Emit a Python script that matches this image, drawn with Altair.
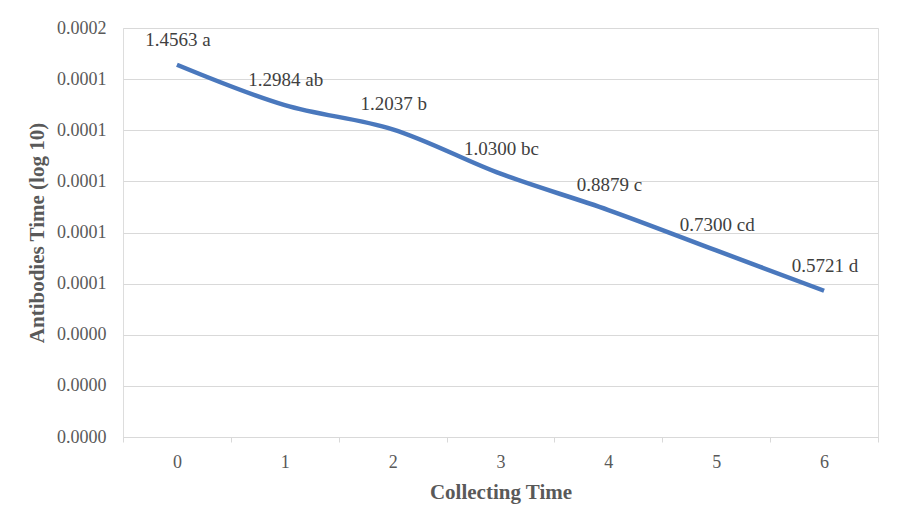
import altair as alt
import pandas as pd

times = ["0", "1", "2", "3", "4", "5", "6"]
values_e4 = [1.4563, 1.2984, 1.2037, 1.0300, 0.8879, 0.7300, 0.5721]
letters = ["a", "ab", "b", "bc", "c", "cd", "d"]
y_ticks = [0, 0.00002, 0.00004, 0.00006, 0.00008, 0.0001, 0.00012, 0.00014, 0.00016]

df = pd.DataFrame({
    "time": times,
    "value": [v * 1e-4 for v in values_e4],
    "label": [f"{v:.4f} {l}" for v, l in zip(values_e4, letters)],
})

FONT = "Liberation Serif"

x_enc = alt.X("time:O", title="Collecting Time", sort=times, bandPosition=0.5,
              scale=alt.Scale(type="band", paddingInner=0, paddingOuter=0),
              axis=alt.Axis(labelAngle=0, tickBand="extent", domainColor="#d9d9d9",
                            tickColor="#d9d9d9", tickSize=5, labelPadding=11,
                            labelFontSize=18, labelColor="#595959", labelFont=FONT,
                            titleFont=FONT, titleFontSize=21, titleColor="#595959",
                            titleFontWeight="bold", titlePadding=10, grid=False))
y_enc = alt.Y("value:Q", title="Antibodies Time (log 10)",
              scale=alt.Scale(domain=[0, 0.00016], nice=False, zero=True),
              axis=alt.Axis(values=y_ticks, format=".4f", domain=False, ticks=False,
                            gridColor="#d9d9d9", gridWidth=1, labelPadding=17,
                            labelFontSize=18, labelColor="#595959", labelFont=FONT,
                            titleFont=FONT, titleFontSize=21, titleColor="#595959",
                            titleFontWeight="bold", titlePadding=9))

base = alt.Chart(df)

line = base.mark_line(color="#4a78bd", strokeWidth=4.5, interpolate="catmull-rom").encode(
    x=x_enc, y=y_enc)

text = base.mark_text(font=FONT, fontSize=19, color="#404040", dx=1, dy=-25).encode(
    x=alt.X("time:O", sort=times, bandPosition=0.5), y="value:Q", text="label:N")

chart = (line + text).properties(
    width=755, height=409,
    autosize=alt.AutoSizeParams(type="none"),
    padding={"left": 123, "top": 28, "right": 26, "bottom": 81},
).configure_view(stroke=None).configure(background="white")

chart.save("out.html", embed_options={"renderer": "svg", "actions": False})
